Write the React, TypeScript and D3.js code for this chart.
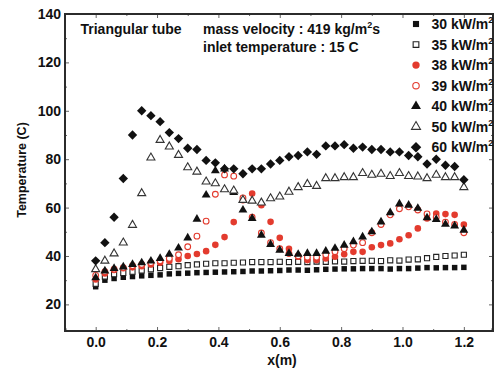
import React, { useRef, useEffect } from 'react';
import * as d3 from 'd3';

// positions along the tube (m)
const xPos = [0.00, 0.03, 0.06, 0.09, 0.12, 0.15, 0.18, 0.21, 0.24, 0.27, 0.30, 0.33, 0.36, 0.39, 0.42, 0.45, 0.48, 0.51, 0.54, 0.57, 0.60, 0.63, 0.66, 0.69, 0.72, 0.75, 0.78, 0.81, 0.84, 0.87, 0.90, 0.93, 0.96, 0.99, 1.02, 1.05, 1.08, 1.11, 1.14, 1.17, 1.20];

// wall temperature (C) for each heat flux
const t30 = [27.3, 30.0, 30.7, 31.2, 31.5, 31.8, 32.0, 32.2, 32.6, 32.8, 32.9, 33.1, 33.2, 33.3, 33.4, 33.5, 33.6, 33.8, 33.8, 33.9, 34.0, 34.2, 34.2, 34.1, 34.3, 34.5, 34.6, 34.7, 34.7, 34.8, 34.8, 34.8, 34.6, 34.8, 34.8, 35.0, 35.2, 35.1, 35.2, 35.2, 35.3];
const t35 = [28.5, 31.5, 32.5, 33.0, 33.5, 34.0, 34.5, 35.0, 35.5, 35.8, 36.2, 36.5, 36.8, 37.0, 37.0, 37.2, 37.3, 37.5, 37.5, 37.5, 37.6, 37.5, 37.6, 37.5, 37.7, 37.6, 37.8, 37.7, 37.9, 38.0, 38.0, 37.9, 38.2, 38.1, 38.5, 38.6, 39.1, 39.6, 40.0, 40.2, 40.5];
const t38 = [30.3, 32.8, 34.2, 34.9, 35.3, 35.8, 36.5, 37.2, 37.9, 38.7, 40.0, 40.8, 42.0, 44.6, 47.8, 54.0, 63.0, 65.8, 61.0, 54.1, 47.5, 43.0, 39.7, 38.3, 38.3, 39.0, 39.7, 40.7, 41.7, 41.7, 43.6, 44.5, 45.2, 46.9, 48.6, 51.4, 55.5, 57.5, 57.3, 57.0, 53.0];
const t39 = [32.0, 33.5, 34.5, 35.2, 36.0, 36.5, 37.2, 38.0, 39.0, 40.5, 43.8, 48.2, 54.4, 65.5, 73.5, 73.0, 64.0, 56.0, 49.5, 45.5, 43.0, 41.0, 40.0, 39.5, 39.5, 40.5, 41.8, 43.0, 44.5, 45.5, 49.6, 53.0, 57.0, 59.5, 60.3, 59.0, 57.4, 56.0, 54.0, 53.0, 49.6];
const t40 = [31.0, 33.8, 34.9, 35.5, 36.5, 37.2, 37.9, 39.0, 40.7, 43.3, 47.5, 55.2, 65.2, 75.2, 76.0, 66.3, 59.0, 55.5, 48.6, 44.8, 42.4, 41.1, 40.7, 41.1, 41.1, 42.0, 43.2, 44.5, 45.9, 47.9, 50.0, 54.1, 57.9, 61.5, 61.0, 59.7, 55.8, 55.1, 53.1, 52.4, 50.7];
const t50 = [34.5, 38.0, 41.0, 45.5, 52.8, 65.9, 80.6, 87.9, 85.2, 81.7, 76.6, 74.8, 70.7, 70.0, 67.5, 67.0, 63.1, 62.8, 62.0, 63.8, 64.5, 66.5, 68.4, 69.7, 68.9, 72.1, 72.1, 72.5, 72.5, 74.2, 73.5, 73.9, 73.0, 74.2, 73.0, 72.8, 72.1, 73.5, 72.5, 72.5, 68.4];
const t60 = [38.0, 45.5, 56.0, 72.0, 90.0, 100.0, 98.0, 95.5, 91.0, 88.5, 84.5, 84.0, 79.5, 78.5, 76.0, 76.0, 74.0, 76.0, 76.0, 78.0, 79.5, 81.0, 81.5, 83.0, 82.0, 85.5, 85.5, 86.0, 84.5, 85.0, 84.0, 84.0, 83.0, 83.0, 81.5, 81.0, 78.0, 80.0, 77.5, 77.0, 71.5];

const seriesLabels = ['30 kW/m', '35 kW/m', '38 kW/m', '39 kW/m', '40 kW/m', '50 kW/m', '60 kW/m'];
const seriesValues = [t30, t35, t38, t39, t40, t50, t60];

const xMajor = [0, 0.2, 0.4, 0.6, 0.8, 1.0, 1.2];
const xMinor = [-0.1, 0.1, 0.3, 0.5, 0.7, 0.9, 1.1];
const yMajor = [20, 40, 60, 80, 100, 120, 140];
const yMinor = [10, 30, 50, 70, 90, 110, 130];

const RED = '#e33b2e';
const FONT = '"Liberation Sans", Arial, sans-serif';

// marker style per series, same order as seriesLabels
const styles = [
    { shape: d3.symbolSquare, size: 30, fill: '#111', stroke: 'none', rot: 0 },
    { shape: d3.symbolSquare, size: 26, fill: '#fff', stroke: '#222', rot: 0 },
    { shape: d3.symbolCircle, size: 34, fill: RED, stroke: 'none', rot: 0 },
    { shape: d3.symbolCircle, size: 26, fill: '#fff', stroke: RED, rot: 0 },
    { shape: d3.symbolTriangle, size: 34, fill: '#111', stroke: 'none', rot: 0 },
    { shape: d3.symbolTriangle, size: 28, fill: '#fff', stroke: '#333', rot: 0 },
    { shape: d3.symbolSquare, size: 44, fill: '#111', stroke: 'none', rot: 45 },
];

function TubeTemperature() {
    const ref = useRef<SVGSVGElement>(null);

    useEffect(() => {
        const svg = d3.select(ref.current);
        svg.selectAll('*').remove();

        const left = 65, right = 493, top = 14, bottom = 331;

        const x = d3.scaleLinear().domain([-0.1, 1.295]).range([left, right]);
        const y = d3.scaleLinear().domain([9, 140]).range([bottom, top]);

        const styleAxis = (g, withText) => {
            g.select('.domain').remove();
            g.selectAll('line').attr('stroke', '#666').attr('stroke-width', 1);
            if (withText) {
                g.selectAll('text')
                    .attr('font-family', FONT)
                    .attr('font-size', 14)
                    .attr('font-weight', 'bold')
                    .attr('fill', '#111');
            } else {
                g.selectAll('text').remove();
            }
        };

        // bottom / top
        svg.append('g').attr('transform', `translate(0,${bottom})`)
            .call(d3.axisBottom(x).tickValues(xMajor).tickSize(-4).tickPadding(6).tickFormat(d3.format('.1f')))
            .call(g => styleAxis(g, true));
        svg.append('g').attr('transform', `translate(0,${bottom})`)
            .call(d3.axisBottom(x).tickValues(xMinor).tickSize(-2))
            .call(g => styleAxis(g, false));
        svg.append('g').attr('transform', `translate(0,${top})`)
            .call(d3.axisTop(x).tickValues(xMajor).tickSize(-4))
            .call(g => styleAxis(g, false));
        svg.append('g').attr('transform', `translate(0,${top})`)
            .call(d3.axisTop(x).tickValues(xMinor).tickSize(-2))
            .call(g => styleAxis(g, false));

        // left / right
        svg.append('g').attr('transform', `translate(${left},0)`)
            .call(d3.axisLeft(y).tickValues(yMajor).tickSize(-4).tickPadding(4))
            .call(g => styleAxis(g, true));
        svg.append('g').attr('transform', `translate(${left},0)`)
            .call(d3.axisLeft(y).tickValues(yMinor).tickSize(-2))
            .call(g => styleAxis(g, false));
        svg.append('g').attr('transform', `translate(${right},0)`)
            .call(d3.axisRight(y).tickValues(yMajor).tickSize(-4))
            .call(g => styleAxis(g, false));
        svg.append('g').attr('transform', `translate(${right},0)`)
            .call(d3.axisRight(y).tickValues(yMinor).tickSize(-2))
            .call(g => styleAxis(g, false));

        // frame
        svg.append('rect')
            .attr('x', left).attr('y', top)
            .attr('width', right - left).attr('height', bottom - top)
            .attr('fill', 'none')
            .attr('stroke', '#2b2b2b')
            .attr('stroke-width', 2);

        // points
        seriesValues.forEach((vals, si) => {
            const st = styles[si];
            const path = d3.symbol().type(st.shape).size(st.size)();
            svg.append('g')
                .selectAll('path')
                .data(vals.map((v, i) => [xPos[i], v]))
                .enter().append('path')
                .attr('d', path)
                .attr('transform', d => `translate(${x(d[0])},${y(d[1])}) rotate(${st.rot})`)
                .attr('fill', st.fill)
                .attr('stroke', st.stroke)
                .attr('stroke-width', 1.1);
        });

        // legend
        const leg = svg.append('g');
        seriesLabels.forEach((lab, i) => {
            const st = styles[i];
            const ly = 24 + i * 20.55;
            leg.append('path')
                .attr('d', d3.symbol().type(st.shape).size(st.size * 1.25)())
                .attr('transform', `translate(416,${ly}) rotate(${st.rot})`)
                .attr('fill', st.fill)
                .attr('stroke', st.stroke)
                .attr('stroke-width', 1.1);
            const t = leg.append('text')
                .attr('x', 431.5).attr('y', ly + 5)
                .attr('font-family', FONT).attr('font-size', 14).attr('font-weight', 'bold')
                .attr('fill', '#111');
            t.append('tspan').text(lab);
            t.append('tspan').attr('dy', -6).attr('font-size', 9).text('2');
        });

        // notes
        const note = (tx, ty) => svg.append('text')
            .attr('x', tx).attr('y', ty)
            .attr('font-family', FONT).attr('font-size', 14).attr('font-weight', 'bold')
            .attr('fill', '#111');
        note(80.5, 34).text('Triangular tube');
        const mv = note(203, 34);
        mv.append('tspan').text('mass velocity : 419 kg/m');
        mv.append('tspan').attr('dy', -6).attr('font-size', 9).text('2');
        mv.append('tspan').attr('dy', 6).text('s');
        note(203, 52).text('inlet temperature : 15 C');

        // axis titles
        svg.append('text')
            .attr('transform', `translate(26,170) rotate(-90)`)
            .attr('text-anchor', 'middle')
            .attr('font-family', FONT).attr('font-size', 12.5).attr('font-weight', 'bold')
            .attr('fill', '#111')
            .text('Temperature (C)');
        svg.append('text')
            .attr('x', 282).attr('y', 365)
            .attr('text-anchor', 'middle')
            .attr('font-family', FONT).attr('font-size', 14).attr('font-weight', 'bold')
            .attr('fill', '#111')
            .text('x(m)');
    }, []);

    return (
        <svg ref={ref} width={494} height={374}
            style={{ position: 'absolute', left: 0, top: 0, display: 'block', background: '#fff' }} />
    );
}

export default function App() {
    return <TubeTemperature />;
}
